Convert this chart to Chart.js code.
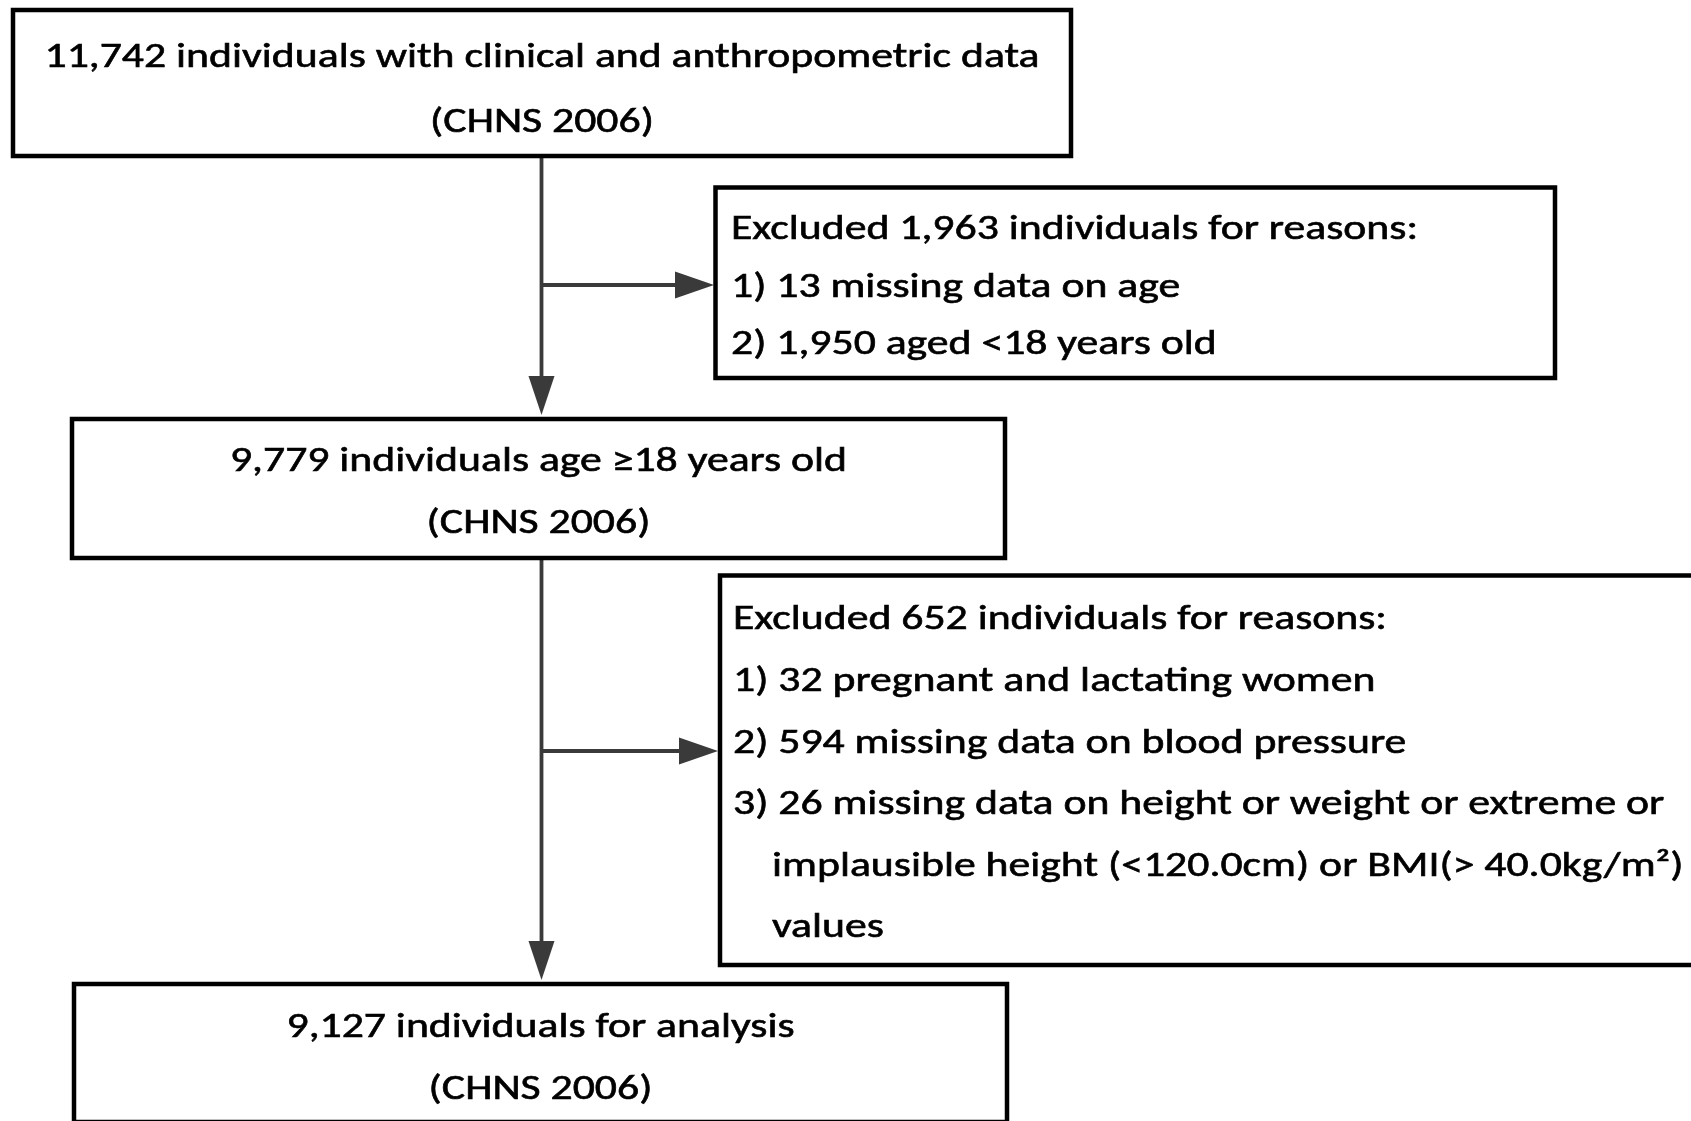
<!DOCTYPE html>
<html>
<head>
<meta charset="utf-8">
<script src="https://cdn.jsdelivr.net/npm/chart.js@4"></script>
<style>
html,body{margin:0;padding:0;background:#fff;overflow:hidden;}
#wrap{width:1691px;height:1121px;position:relative;}
</style>
</head>
<body>
<div id="wrap"><canvas id="c" width="1691" height="1121"></canvas></div>
<script>
// ---- data (flow counts and labels) ----
const stageCounts = ["11,742", "9,779", "9,127"];
const stageLabels = [
  "individuals with clinical and anthropometric data",
  "individuals age \u226518 years old",
  "individuals for analysis"
];
const stageSource = ["(CHNS 2006)", "(CHNS 2006)", "(CHNS 2006)"];
const excludedCounts = ["1,963", "652"];
const reasonsStep1 = [
  "1) 13 missing data on age",
  "2) 1,950 aged <18 years old"
];
const reasonsStep2 = [
  "1) 32 pregnant and lactating women",
  "2) 594 missing data on blood pressure",
  "3) 26 missing data on height or weight or extreme or",
  "   implausible height (<120.0cm) or BMI(> 40.0kg/m\u00B2)",
  "   values"
];

// ---- layout (positions in a 1691 x 1121 data space) ----
const layout = {
  stages: [
    {x0: 13, x1: 1071, y0: 10, y1: 156, base: [67, 132]},
    {x0: 72, x1: 1005, y0: 419, y1: 558, base: [471, 533]},
    {x0: 74, x1: 1007, y0: 984, y1: 1122, base: [1037, 1099]}
  ],
  excl: [
    {x0: 715.5, x1: 1555, y0: 187.5, y1: 378, tx: 731, base: [239, 297, 354]},
    {x0: 720, x1: 1700, y0: 575.5, y1: 965, tx: 733, indent: 772, base: [629, 691, 753, 814, 876, 937]}
  ],
  trunkX: 541.5,
  trunks: [[156, 417], [558, 982]],
  branches: [{y: 285, tip: 714}, {y: 751, tip: 718}],
  font: "Carlito, Lato, 'Open Sans', sans-serif",
  fontSize: 35,
  refWidth: 995
};

const flowPlugin = {
  id: 'flow',
  afterDraw(chart) {
    const ctx = chart.ctx;
    const xs = chart.scales.x, ys = chart.scales.y;
    const X = v => xs.getPixelForValue(v);
    const Y = v => ys.getPixelForValue(v);
    ctx.save();
    ctx.fillStyle = '#fff';
    ctx.fillRect(0, 0, chart.width, chart.height);

    // connectors
    const grey = '#3a3a3a';
    ctx.strokeStyle = grey;
    ctx.fillStyle = grey;
    ctx.lineWidth = 3.8;
    ctx.lineCap = 'butt';
    layout.trunks.forEach(([a, b]) => {
      ctx.beginPath();
      ctx.moveTo(X(layout.trunkX), Y(a));
      ctx.lineTo(X(layout.trunkX), Y(b - 38));
      ctx.stroke();
      ctx.beginPath();
      ctx.moveTo(X(layout.trunkX - 13), Y(b - 41));
      ctx.lineTo(X(layout.trunkX + 13), Y(b - 41));
      ctx.lineTo(X(layout.trunkX), Y(b - 2));
      ctx.closePath();
      ctx.fill();
    });
    layout.branches.forEach(br => {
      ctx.beginPath();
      ctx.moveTo(X(layout.trunkX), Y(br.y));
      ctx.lineTo(X(br.tip - 36), Y(br.y));
      ctx.stroke();
      ctx.beginPath();
      ctx.moveTo(X(br.tip - 39), Y(br.y - 13.5));
      ctx.lineTo(X(br.tip - 39), Y(br.y + 13.5));
      ctx.lineTo(X(br.tip), Y(br.y));
      ctx.closePath();
      ctx.fill();
    });

    // boxes
    ctx.strokeStyle = '#000';
    ctx.lineWidth = 4.5;
    const allBoxes = layout.stages.concat(layout.excl);
    allBoxes.forEach(b => {
      ctx.fillStyle = '#fff';
      ctx.fillRect(X(b.x0), Y(b.y0), X(b.x1) - X(b.x0), Y(b.y1) - Y(b.y0));
      ctx.strokeRect(X(b.x0), Y(b.y0), X(b.x1) - X(b.x0), Y(b.y1) - Y(b.y0));
    });

    // text
    ctx.fillStyle = '#000';
    ctx.strokeStyle = '#000';
    ctx.lineWidth = 0.6;
    ctx.font = layout.fontSize + 'px ' + layout.font;
    ctx.textBaseline = 'alphabetic';
    const line1 = stageCounts[0] + ' ' + stageLabels[0];
    const sx = layout.refWidth / ctx.measureText(line1).width;
    const draw = (t, x, y, align) => {
      ctx.save();
      ctx.translate(X(x), Y(y));
      ctx.scale(sx, 1);
      ctx.textAlign = align;
      ctx.fillText(t, 0, 0);
      ctx.strokeText(t, 0, 0);
      ctx.restore();
    };
    layout.stages.forEach((b, i) => {
      const cx = (b.x0 + b.x1) / 2;
      draw(stageCounts[i] + ' ' + stageLabels[i], cx, b.base[0], 'center');
      draw(stageSource[i], cx, b.base[1], 'center');
    });
    const reasonSets = [reasonsStep1, reasonsStep2];
    layout.excl.forEach((b, i) => {
      draw('Excluded ' + excludedCounts[i] + ' individuals for reasons:', b.tx, b.base[0], 'left');
      reasonSets[i].forEach((r, j) => {
        const indented = r.startsWith('   ');
        draw(r.trim(), indented ? b.indent : b.tx, b.base[j + 1], 'left');
      });
    });
    ctx.restore();
  }
};

new Chart(document.getElementById('c'), {
  type: 'scatter',
  data: { datasets: [{ data: [], pointRadius: 0 }] },
  options: {
    responsive: false,
    animation: false,
    devicePixelRatio: 1,
    layout: { padding: 0 },
    plugins: { legend: { display: false }, tooltip: { enabled: false } },
    scales: {
      x: { type: 'linear', min: 0, max: 1691, display: false },
      y: { type: 'linear', min: 0, max: 1121, reverse: true, display: false }
    }
  },
  plugins: [flowPlugin]
});
</script>
</body>
</html>
